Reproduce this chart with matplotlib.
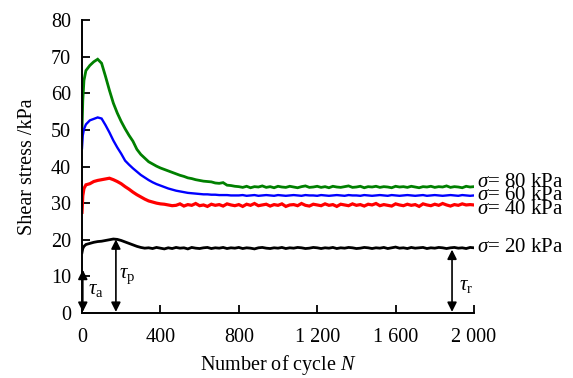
import matplotlib
matplotlib.use("Agg")
import matplotlib.pyplot as plt
import numpy as np

plt.rcParams['font.family'] = ['Liberation Serif', 'DejaVu Serif']
plt.rcParams['mathtext.fontset'] = 'custom'
plt.rcParams['mathtext.rm'] = 'Liberation Serif'
plt.rcParams['mathtext.it'] = 'Liberation Serif:italic'
plt.rcParams['mathtext.bf'] = 'Liberation Serif:bold'

# ---------------- data ----------------
cycles = [0, 4, 10] + list(range(20, 2001, 20))

stress_80 = [50.0, 58.0, 63.5,
             66.2, 67.6, 68.6, 69.3, 68.2, 64.6, 60.8, 57.3, 54.6, 52.3,
             50.3, 48.5, 46.9, 44.7, 43.3, 42.3, 41.3, 40.7, 40.1, 39.6,
             39.2, 38.8, 38.4, 38.0, 37.6, 37.3, 36.9, 36.7, 36.4, 36.2,
             36.0, 35.9, 35.8, 35.5, 35.4, 35.6, 34.9, 34.8, 34.6,
             34.5, 34.3, 34.6, 34.2, 34.5, 34.4, 34.7, 34.3, 34.5, 34.2,
             34.6, 34.4, 34.3, 34.6, 34.4, 34.2, 34.5, 34.7, 34.3, 34.4,
             34.6, 34.3, 34.5, 34.2, 34.6, 34.4, 34.3, 34.5, 34.7, 34.3,
             34.4, 34.6, 34.2, 34.5, 34.4, 34.6, 34.3, 34.5, 34.4, 34.2,
             34.6, 34.4, 34.5, 34.3, 34.6, 34.4, 34.2, 34.5, 34.4, 34.6,
             34.3, 34.5, 34.4, 34.7, 34.3, 34.5, 34.4, 34.2, 34.6, 34.4,
             34.5]

stress_60 = [45.0, 48.5, 50.2,
             51.5, 52.6, 53.0, 53.4, 53.1, 51.3, 49.3, 47.1, 45.2, 43.5,
             41.6, 40.5, 39.5, 38.6, 37.7, 37.0, 36.3, 35.7, 35.2, 34.8,
             34.4, 34.0, 33.7, 33.4, 33.2, 33.0, 32.8, 32.7, 32.6, 32.5,
             32.4, 32.4, 32.3, 32.3, 32.2, 32.2, 32.2, 32.1, 32.1,
             32.1, 32.2, 32.0, 32.1, 32.2, 32.0, 32.1, 32.2, 32.1, 32.0,
             32.2, 32.1, 32.0, 32.1, 32.2, 32.1, 32.0, 32.2, 32.1, 32.1,
             32.0, 32.2, 32.1, 32.0, 32.1, 32.2, 32.1, 32.0, 32.2, 32.1,
             32.1, 32.0, 32.2, 32.1, 32.0, 32.1, 32.2, 32.1, 32.0, 32.2,
             32.1, 32.0, 32.1, 32.2, 32.1, 32.0, 32.1, 32.2, 32.0, 32.1,
             32.2, 32.1, 32.0, 32.1, 32.2, 32.1, 32.0, 32.2, 32.1, 32.0,
             32.1]

stress_40 = [27.5, 32.0, 34.0,
             35.0, 35.3, 35.9, 36.2, 36.4, 36.6, 36.8, 36.4, 35.9, 35.3,
             34.5, 33.8, 33.0, 32.3, 31.7, 31.1, 30.6, 30.3, 30.0, 29.8,
             29.7, 29.5, 29.3, 29.4, 29.8, 29.2, 29.6, 29.4, 29.9, 29.3,
             29.5, 29.1, 29.7, 29.4, 29.6, 29.2, 29.8, 29.5, 29.3,
             29.6, 29.1, 29.7, 29.4, 29.9, 29.3, 29.5, 29.7, 29.2, 29.6,
             29.4, 29.8, 29.1, 29.5, 29.6, 29.3, 29.9, 29.4, 29.2, 29.7,
             29.5, 29.3, 29.8, 29.4, 29.6, 29.1, 29.7, 29.5, 29.3, 29.8,
             29.4, 29.6, 29.2, 29.7, 29.5, 29.9, 29.3, 29.6, 29.4, 29.2,
             29.8, 29.5, 29.3, 29.7, 29.4, 29.6, 29.1, 29.8, 29.5, 29.3,
             29.7, 29.4, 29.9, 29.5, 29.2, 29.6, 29.4, 29.8, 29.5, 29.6,
             29.5]

stress_20 = [16.5, 17.6, 18.2,
             18.7, 19.0, 19.3, 19.5, 19.6, 19.8, 20.0, 20.2, 20.1, 19.8,
             19.4, 19.0, 18.6, 18.2, 17.9, 17.7, 17.8, 17.6, 17.9, 17.7,
             17.5, 17.8, 17.6, 17.9, 17.7, 17.8, 17.5, 17.9, 17.7, 17.6,
             17.8, 17.9, 17.6, 17.8, 17.7, 17.9, 17.6, 17.8, 17.7,
             17.9, 17.6, 17.8, 17.7, 17.5, 17.8, 17.9, 17.7, 17.6, 17.8,
             17.7, 17.9, 17.6, 17.8, 17.7, 17.9, 17.8, 17.6, 17.7, 17.9,
             17.8, 17.6, 17.8, 17.7, 17.9, 17.6, 17.8, 17.7, 17.9, 17.8,
             17.6, 17.7, 17.9, 17.8, 17.6, 17.8, 17.7, 17.9, 17.6, 17.8,
             18.0, 17.7, 17.8, 17.6, 17.9, 17.7, 17.8, 17.9, 17.6, 17.8,
             17.7, 17.9, 17.8, 17.6, 17.8, 17.9, 17.7, 17.8, 17.6, 17.9,
             17.8]

series = [
    (stress_80, 'green', 2.0, r'$\sigma$= 80 kPa', 35.5),
    (stress_60, 'blue', 1.7, r'$\sigma$= 60 kPa', 32.0),
    (stress_40, 'red', 2.3, r'$\sigma$= 40 kPa', 28.3),
    (stress_20, 'black', 2.0, r'$\sigma$= 20 kPa', 17.8),
]

xticks = [0, 400, 800, 1200, 1600, 2000]
xticklabels = ['0', '400', '800', '1 200', '1 600', '2 000']
yticks = [0, 10, 20, 30, 40, 50, 60, 70, 80]

# ---------------- figure ----------------
fig = plt.figure(figsize=(5.73, 3.78), dpi=100)
ax = fig.add_axes([0.1431, 0.172, 0.6841, 0.775])

for vals, col, lw, lab, ylab in series:
    ax.plot(cycles, vals, color=col, lw=lw, solid_joinstyle='miter')
    ax.text(2015, ylab, lab, fontsize=15, va='center', ha='left', clip_on=False)

ax.set_xlim(0, 2000)
ax.set_ylim(0, 80)
ax.set_xticks(xticks)
ax.set_xticklabels(xticklabels)
ax.set_yticks(yticks)
ax.tick_params(direction='in', length=5.5, width=1.3, labelsize=14.5)
ax.tick_params(axis='x', pad=11)
ax.tick_params(axis='y', pad=8)
for s in ['top', 'right']:
    ax.spines[s].set_visible(False)
for s in ['left', 'bottom']:
    ax.spines[s].set_linewidth(1.4)

ax.set_xlabel(r'Number of cycle $N$', fontsize=14.5, labelpad=4)
ax.set_ylabel('Shear stress /kPa', fontsize=14.5, labelpad=10)

arrow_kw = dict(arrowstyle='<|-|>', color='black', lw=1.2,
                mutation_scale=14, shrinkA=0, shrinkB=0)
ax.annotate('', xy=(4, 0.3), xytext=(4, 11.8), arrowprops=arrow_kw,
            annotation_clip=False)
ax.annotate('', xy=(173, 0.3), xytext=(173, 20.1), arrowprops=arrow_kw)
ax.annotate('', xy=(1888, 0.3), xytext=(1888, 17.3), arrowprops=arrow_kw)

ax.text(30, 6.3, r'$\tau_{\mathrm{a}}$', fontsize=15, va='center', ha='left')
ax.text(190, 10.0, r'$\tau_{\mathrm{p}}$', fontsize=15, va='center', ha='left')
ax.text(1925, 7.6, r'$\tau_{\mathrm{r}}$', fontsize=15, va='center', ha='left')

fig.savefig('out.png', dpi=100)
